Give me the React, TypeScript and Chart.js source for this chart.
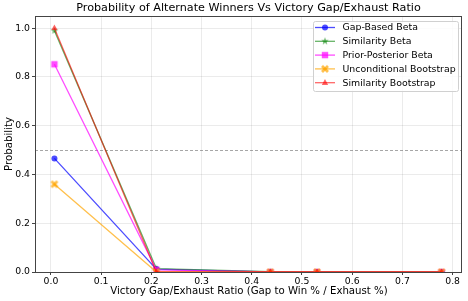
import React, { useEffect, useRef } from "react";
import { Chart, registerables } from "chart.js";

Chart.register(...registerables);

const xValues = [0.007, 0.21, 0.437, 0.53, 0.778];
const seriesNames = [
  "Gap-Based Beta",
  "Similarity Beta",
  "Prior-Posterior Beta",
  "Unconditional Bootstrap",
  "Similarity Bootstrap",
];
const gapBasedBeta = [0.466, 0.012, 0.0, 0.0, 0.0];
const similarityBeta = [0.99, 0.014, 0.001, 0.0, 0.0];
const priorPosteriorBeta = [0.852, 0.009, 0.0, 0.0, 0.0];
const unconditionalBootstrap = [0.36, 0.0, 0.0, 0.0, 0.0];
const similarityBootstrap = [1.0, 0.0, 0.0, 0.0, 0.0];
const xTicks = [0, 0.1, 0.2, 0.3, 0.4, 0.5, 0.6, 0.7, 0.8];
const yTicks = [0, 0.2, 0.4, 0.6, 0.8, 1.0];

const colors = [
  "rgba(0,0,255,0.7)",
  "rgba(0,128,0,0.6)",
  "rgba(255,0,255,0.7)",
  "rgba(255,165,0,0.7)",
  "rgba(255,0,0,0.6)",
];
const markers = ["circle", "star", "square", "x", "triangle"];

function makeMarker(kind: string, color: string): any {
  if (kind === "circle" || kind === "triangle") return kind === "circle" ? "circle" : "triangle";
  const s = 10;
  const c = document.createElement("canvas");
  c.width = s;
  c.height = s;
  const g = c.getContext("2d")!;
  g.fillStyle = color;
  g.translate(s / 2, s / 2);
  if (kind === "square") {
    g.fillRect(-3.2, -3.2, 6.4, 6.4);
  } else if (kind === "star") {
    g.beginPath();
    for (let i = 0; i < 10; i++) {
      const r = i % 2 === 0 ? 4 : 1.6;
      const a = -Math.PI / 2 + (i * Math.PI) / 5;
      const px = r * Math.cos(a);
      const py = r * Math.sin(a);
      if (i === 0) g.moveTo(px, py);
      else g.lineTo(px, py);
    }
    g.closePath();
    g.fill();
  } else if (kind === "x") {
    g.rotate(Math.PI / 4);
    g.fillRect(-4.2, -1.4, 8.4, 2.8);
    g.fillRect(-1.4, -4.2, 2.8, 8.4);
  }
  return c;
}

const PLOT = { left: 35, top: 16, right: 462, bottom: 272 };

const decorPlugin = {
  id: "decor",
  beforeDatasetsDraw(chart: any) {
    const { ctx, chartArea, scales } = chart;
    const y = scales.y.getPixelForValue(0.5);
    ctx.save();
    ctx.strokeStyle = "rgba(128,128,128,0.7)";
    ctx.lineWidth = 1;
    ctx.setLineDash([3, 2]);
    ctx.beginPath();
    ctx.moveTo(chartArea.left, Math.round(y) + 0.5);
    ctx.lineTo(chartArea.right, Math.round(y) + 0.5);
    ctx.stroke();
    ctx.restore();
  },
  afterDraw(chart: any) {
    const { ctx, chartArea } = chart;
    ctx.save();
    ctx.strokeStyle = "#444";
    ctx.lineWidth = 1;
    ctx.strokeRect(chartArea.left + 0.5, chartArea.top + 0.5, chartArea.right - chartArea.left - 1, chartArea.bottom - chartArea.top);
    ctx.fillStyle = "#000";
    ctx.textAlign = "center";
    ctx.textBaseline = "middle";
    ctx.font = "11.2px 'DejaVu Sans'";
    ctx.fillText("Probability of Alternate Winners Vs Victory Gap/Exhaust Ratio", 248.5, 8.5);
    ctx.font = "10.2px 'DejaVu Sans'";
    ctx.fillText("Victory Gap/Exhaust Ratio (Gap to Win % / Exhaust %)", 249, 291);
    ctx.save();
    ctx.translate(9, 144);
    ctx.rotate(-Math.PI / 2);
    ctx.fillText("Probability", 0, 0);
    ctx.restore();
    const lx = 313, ly = 21, lw = 145, lh = 70;
    ctx.fillStyle = "rgba(255,255,255,0.85)";
    ctx.strokeStyle = "#d0d0d0";
    ctx.lineWidth = 1;
    ctx.beginPath();
    (ctx as any).roundRect(lx + 0.5, ly + 0.5, lw, lh, 2);
    ctx.fill();
    ctx.stroke();
    ctx.font = "9.4px 'DejaVu Sans'";
    ctx.textAlign = "left";
    const metas = chart.data.datasets;
    for (let i = 0; i < seriesNames.length; i++) {
      const yy = 27.5 + i * 13.8;
      ctx.strokeStyle = colors[i];
      ctx.lineWidth = 1.3;
      ctx.beginPath();
      ctx.moveTo(315, yy);
      ctx.lineTo(335, yy);
      ctx.stroke();
      const ps = metas[i].pointStyle;
      if (typeof ps === "string") {
        ctx.fillStyle = colors[i];
        ctx.beginPath();
        if (ps === "circle") {
          ctx.arc(325, yy, 3, 0, Math.PI * 2);
        } else {
          ctx.moveTo(325, yy - 3.6);
          ctx.lineTo(328.2, yy + 2.4);
          ctx.lineTo(321.8, yy + 2.4);
          ctx.closePath();
        }
        ctx.fill();
      } else {
        ctx.drawImage(ps, 320, yy - 5);
      }
      ctx.fillStyle = "#000";
      ctx.fillText(seriesNames[i], 342.5, yy + 0.5);
    }
    ctx.restore();
  },
};

export default function App() {
  const ref = useRef<HTMLCanvasElement>(null);
  useEffect(() => {
    const series = [gapBasedBeta, similarityBeta, priorPosteriorBeta, unconditionalBootstrap, similarityBootstrap];
    const datasets = series.map((vals, i) => ({
      label: seriesNames[i],
      data: vals.map((v, j) => ({ x: xValues[j], y: v })),
      borderColor: colors[i],
      backgroundColor: colors[i],
      borderWidth: 1.3,
      pointStyle: makeMarker(markers[i], colors[i]),
      pointRadius: markers[i] === "triangle" ? 3.6 : 3,
      pointBorderWidth: 0,
      pointBackgroundColor: colors[i],
      order: 5 - i,
      clip: 0,
    }));
    const chart = new Chart(ref.current!, {
      type: "line",
      data: { datasets },
      options: {
        animation: false,
        responsive: false,
        devicePixelRatio: 1,
        layout: { padding: { left: 0, top: PLOT.top, right: 468 - PLOT.right, bottom: 0 } },
        plugins: { legend: { display: false }, tooltip: { enabled: false }, title: { display: false } },
        scales: {
          x: {
            type: "linear",
            min: -0.0317,
            max: 0.8187,
            afterBuildTicks: (s: any) => {
              s.ticks = xTicks.map((v) => ({ value: v }));
            },
            afterFit: (s: any) => {
              s.height = 301 - PLOT.bottom;
            },
            ticks: {
              color: "#000",
              font: { family: "'DejaVu Sans'", size: 9.3 },
              padding: 1,
              maxRotation: 0,
              callback: (v: any) => Number(v).toFixed(1),
            },
            grid: { color: "rgba(0,0,0,0.08)", tickLength: 3, tickColor: "#444" },
            border: { display: false },
          },
          y: {
            type: "linear",
            min: 0,
            max: 1.05,
            afterBuildTicks: (s: any) => {
              s.ticks = yTicks.map((v) => ({ value: v }));
            },
            afterFit: (s: any) => {
              s.width = PLOT.left;
            },
            ticks: {
              color: "#000",
              font: { family: "'DejaVu Sans'", size: 9.3 },
              padding: 2,
              callback: (v: any) => Number(v).toFixed(1),
            },
            grid: { color: "rgba(0,0,0,0.08)", tickLength: 3, tickColor: "#444" },
            border: { display: false },
          },
        },
      },
      plugins: [decorPlugin],
    });
    return () => chart.destroy();
  }, []);
  return (
    <div style={{ position: "fixed", left: 0, top: 0, width: 468, height: 301, background: "#fff" }}>
      <canvas ref={ref} width={468} height={301} style={{ width: 468, height: 301 }} />
    </div>
  );
}
